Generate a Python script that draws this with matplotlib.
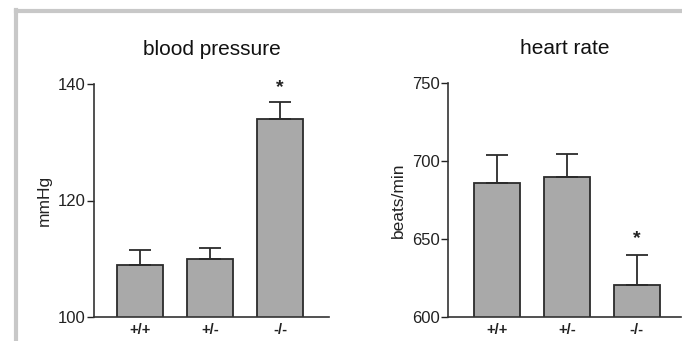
import matplotlib.pyplot as plt
from matplotlib.lines import Line2D

plt.rcParams["font.family"] = ["Liberation Sans", "DejaVu Sans"]

genotypes = ["+/+", "+/-", "-/-"]

bp_mean = [108.9, 110.0, 134.0]
bp_err = [2.6, 1.8, 2.9]

hr_mean = [685.9, 689.7, 620.5]
hr_err = [17.9, 14.8, 19.2]

bar_color = "#a9a9a9"
edge_color = "#2b2b2b"


def draw_panel(ax, means, errs, title, ylabel, ylim, yticks, star_idx, star_y, xlim, width):
    x = list(range(len(means)))
    ax.bar(x, means, width=width, color=bar_color, edgecolor=edge_color,
           linewidth=1.3, zorder=2)
    ax.errorbar(x, means, yerr=[[0] * len(errs), errs], fmt="none",
                ecolor=edge_color, elinewidth=1.3, capsize=8, capthick=1.3, zorder=3)
    ax.text(star_idx, star_y, "*", ha="center", va="center", fontsize=14,
            fontweight="bold", color="#222222")
    ax.set_xlim(*xlim)
    ax.set_ylim(*ylim)
    ax.set_yticks(yticks)
    ax.set_xticks(x)
    ax.set_xticklabels(genotypes, fontsize=10.5, fontweight="bold")
    ax.tick_params(axis="x", length=0, pad=4, colors="#222222")
    ax.tick_params(axis="y", direction="out", length=5, width=1, labelsize=12,
                   pad=1, colors="#222222")
    for side in ["top", "right"]:
        ax.spines[side].set_visible(False)
    for side in ["left", "bottom"]:
        ax.spines[side].set_linewidth(1.2)
        ax.spines[side].set_color("#333333")
    ax.set_ylabel(ylabel, fontsize=12.5, color="#222222", labelpad=4)
    ax.set_title(title, fontsize=15, color="#111111", pad=21)


fig = plt.figure(figsize=(6.82, 3.41), dpi=100)

ax1 = fig.add_axes([94 / 682, 1 - 317 / 341, (329 - 94) / 682, (317 - 84) / 341])
draw_panel(ax1, bp_mean, bp_err, "blood pressure", "mmHg", (100, 140),
           [100, 120, 140], 2, 139.3, (-0.657, 2.7), 0.657)

ax2 = fig.add_axes([448 / 682, 1 - 317 / 341, (681 - 448) / 682, (317 - 83) / 341])
draw_panel(ax2, hr_mean, hr_err, "heart rate", "beats/min", (600, 750),
           [600, 650, 700, 750], 2, 650, (-0.70, 2.63), 0.66)

# grey frame around the figure (top and left edges)
fig.add_artist(Line2D([16 / 682, 1], [1 - 11 / 341, 1 - 11 / 341], color="#c8c8c8",
                      linewidth=3, transform=fig.transFigure))
fig.add_artist(Line2D([16 / 682, 16 / 682], [0, 1 - 9.5 / 341], color="#c8c8c8",
                      linewidth=3, transform=fig.transFigure))

fig.savefig("out.png", dpi=100)
